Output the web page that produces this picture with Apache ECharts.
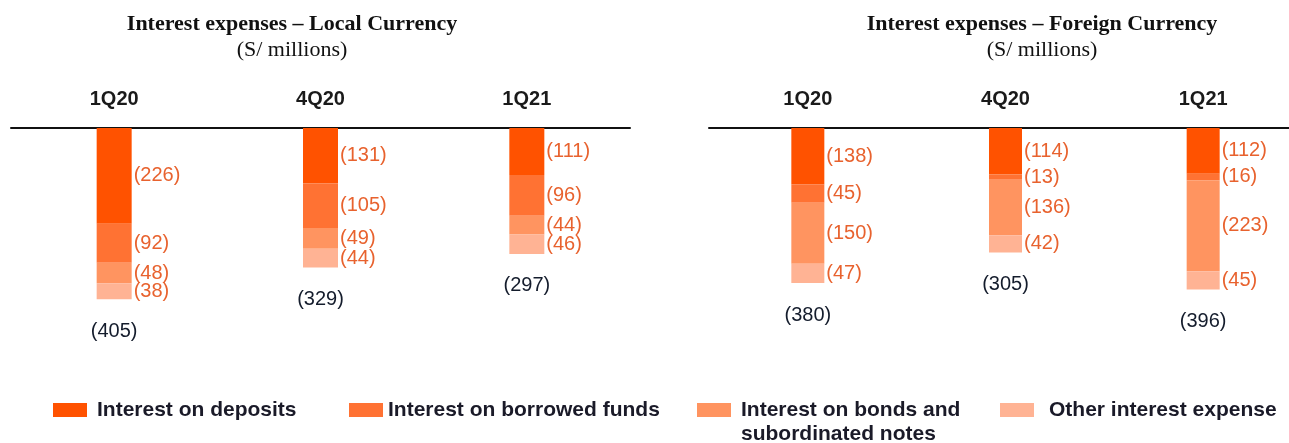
<!DOCTYPE html>
<html>
<head>
<meta charset="utf-8">
<script src="https://cdn.jsdelivr.net/npm/echarts@6/dist/echarts.min.js"></script>
<style>
	html, body {margin: 0; padding: 0; background: #fff;}
	#chart {width: 1289px; height: 443px;}
</style>
</head>
<body>
<div id="chart"></div>
<script>
const quarters = ['1Q20', '4Q20', '1Q21'];
const seriesNames = ['Interest on deposits', 'Interest on borrowed funds', 'Interest on bonds and subordinated notes', 'Other interest expense'];

// local currency (S/ millions)
const localDeposits = [226, 131, 111];
const localBorrowed = [92, 105, 96];
const localBonds = [48, 49, 44];
const localOther = [38, 44, 46];
const localTotal = [405, 329, 297];

// foreign currency (S/ millions)
const foreignDeposits = [138, 114, 112];
const foreignBorrowed = [45, 13, 16];
const foreignBonds = [150, 136, 223];
const foreignOther = [47, 42, 45];
const foreignTotal = [380, 305, 396];

const colors = ['#ff5200', '#ff7233', '#ff9460', '#ffb394'];
const font = 'Liberation Sans, Arial, sans-serif';

const chart = echarts.init(document.getElementById('chart'));

function stackSeries(grid, values, barWidth) {
	return values.map((v, i) => ({
		name: seriesNames[i],
		type: 'bar',
		stack: 'g' + grid,
		xAxisIndex: grid,
		yAxisIndex: grid,
		barWidth: barWidth,
		itemStyle: {color: colors[i]},
		label: {
			show: true,
			position: 'right',
			distance: 2,
			color: '#e8622e',
			fontFamily: font,
			fontSize: 20,
			formatter: p => '(' + p.value + ')'
		},
		labelLayout: {moveOverlap: 'shiftY'},
		data: v
	}));
}

function totalSeries(grid, totals) {
	return {
		type: 'scatter',
		xAxisIndex: grid,
		yAxisIndex: grid,
		symbolSize: 0,
		silent: true,
		itemStyle: {opacity: 1},
		label: {
			show: true,
			position: 'bottom',
			distance: 22,
			color: '#141c2c',
			fontFamily: font,
			fontSize: 20,
			formatter: p => '(' + p.value + ')'
		},
		data: totals
	};
}

function legendItem(name, left, top, pad, icon) {
	return {
		data: [name],
		left: left,
		top: top,
		padding: 0,
		icon: icon || 'rect',
		itemWidth: 34,
		itemHeight: icon ? 38 : 14,
		selectedMode: false,
		textStyle: {
			color: '#1a1a28',
			fontFamily: font,
			fontWeight: 'bold',
			fontSize: 21,
			lineHeight: 24,
			padding: pad
		}
	};
}

const option = {
	animation: false,
	title: [
		{
			text: 'Interest expenses – Local Currency',
			subtext: '(S/ millions)',
			left: 287, top: 8, textAlign: 'center', itemGap: 4,
			textStyle: {fontFamily: 'Liberation Serif', fontWeight: 'bold', fontSize: 22, color: '#111'},
			subtextStyle: {fontFamily: 'Liberation Serif', fontSize: 22, color: '#111'}
		},
		{
			text: 'Interest expenses – Foreign Currency',
			subtext: '(S/ millions)',
			left: 1037, top: 8, textAlign: 'center', itemGap: 4,
			textStyle: {fontFamily: 'Liberation Serif', fontWeight: 'bold', fontSize: 22, color: '#111'},
			subtextStyle: {fontFamily: 'Liberation Serif', fontSize: 22, color: '#111'}
		}
	],
	legend: [
		legendItem(seriesNames[0], 53, 398, [0, 0, 0, 5]),
		legendItem(seriesNames[1], 349, 398, [0, 0, 0, 0]),
		// icon box taller than the swatch so the swatch sits beside the first text line
		legendItem(seriesNames[2], 697, 398, [0, 0, 0, 5], 'path://M0,0H34V14H0ZM0,38H0.01V37.99Z'),
		legendItem(seriesNames[3], 1000, 398, [0, 0, 0, 10])
	],
	grid: [
		{left: 11, width: 619, top: 128, height: 212, outerBoundsMode: 'none'},
		{left: 709, width: 593, top: 128, height: 204, outerBoundsMode: 'none'}
	],
	xAxis: [0, 1].map(i => ({
		type: 'category',
		gridIndex: i,
		position: 'top',
		data: quarters,
		axisLine: {lineStyle: {color: '#111', width: 2}},
		axisTick: {show: false},
		axisLabel: {margin: 19, color: '#1a1a1a', fontFamily: font, fontWeight: 'bold', fontSize: 20}
	})),
	yAxis: [0, 1].map(i => ({
		type: 'value',
		gridIndex: i,
		inverse: true,
		min: 0,
		max: 500,
		show: false
	})),
	series: [
		...stackSeries(0, [localDeposits, localBorrowed, localBonds, localOther], 35),
		totalSeries(0, localTotal),
		...stackSeries(1, [foreignDeposits, foreignBorrowed, foreignBonds, foreignOther], 33),
		totalSeries(1, foreignTotal)
	]
};

option.legend[2].formatter = () => 'Interest on bonds and\nsubordinated notes';

chart.setOption(option);
</script>
</body>
</html>
